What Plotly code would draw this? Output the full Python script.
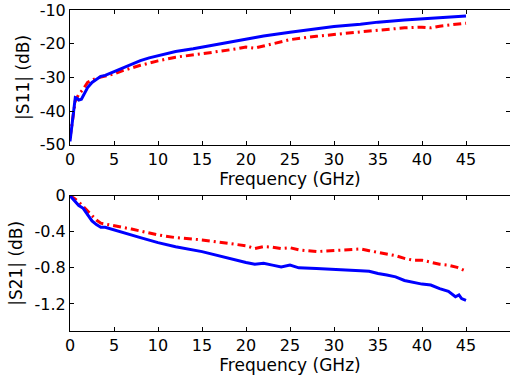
import plotly.graph_objects as go

# ---- data ----
f_s11_meas = [0, 0.2, 0.4, 0.6, 0.8, 1.0, 1.3, 1.6, 2.0, 2.5, 3.0, 3.5, 4.0, 5, 6, 7, 8, 9, 10,
              12, 14, 15, 17, 20, 22, 25, 28, 30, 33, 35, 38, 40, 42, 44, 45]
s11_meas = [-49, -44, -39, -36, -36.2, -36.7, -36.5, -35, -33, -31.5, -30.5, -29.7, -29.4, -28.3,
            -27, -26, -25, -24.2, -23.5, -22.3, -21.5, -21, -20, -18.5, -17.7, -16.6, -15.5,
            -14.9, -14.2, -13.6, -13, -12.6, -12.3, -11.9, -11.8]

f_s11_sim = [0, 0.3, 0.6, 1, 1.5, 2, 3, 4, 5, 6, 7, 8, 10, 12, 15, 17, 19, 20, 21, 22, 25, 28,
             30, 33, 35, 38, 40, 41, 42, 44, 45]
s11_sim = [-48, -42, -37, -35, -33.5, -31.5, -30.2, -29.6, -29, -28, -27.2, -26.4, -25.1, -24,
           -23, -22.3, -21.5, -21, -21.3, -20.7, -18.8, -17.8, -17.2, -16.5, -16, -15.3, -15.1,
           -15.3, -14.8, -14.2, -13.9]

f_s21_meas = [0, 0.5, 1, 1.5, 2, 2.5, 3, 3.5, 4, 5, 7, 8, 10, 12, 15, 18, 20, 21, 22, 23, 24, 25,
              26, 28, 30, 32, 33, 34, 35, 36, 37, 38, 39, 40, 41, 42, 43, 43.8, 44.2, 44.5, 45]
s21_meas = [0, -0.05, -0.11, -0.14, -0.21, -0.28, -0.32, -0.35, -0.35, -0.38, -0.435, -0.465,
            -0.52, -0.565, -0.62, -0.695, -0.74, -0.76, -0.75, -0.77, -0.79, -0.77, -0.80,
            -0.807, -0.82, -0.826, -0.833, -0.837, -0.863, -0.88, -0.9, -0.94, -0.964, -0.98,
            -0.99, -1.03, -1.06, -1.12, -1.10, -1.14, -1.16]

f_s21_sim = [0, 0.5, 1, 2, 3, 3.5, 5, 7, 10, 12, 15, 18, 20, 21, 22, 23, 24, 25, 26, 28, 30, 31,
             32, 33, 34, 35, 36, 37, 38, 39, 40, 41, 42, 43, 44, 45]
s21_sim = [0, -0.03, -0.07, -0.175, -0.27, -0.305, -0.33, -0.37, -0.435, -0.465, -0.49, -0.53,
           -0.555, -0.585, -0.565, -0.57, -0.585, -0.577, -0.6, -0.62, -0.61, -0.6, -0.595,
           -0.59, -0.61, -0.63, -0.65, -0.665, -0.695, -0.715, -0.715, -0.74, -0.76, -0.77,
           -0.795, -0.837]

x_ticks = [0, 5, 10, 15, 20, 25, 30, 35, 40, 45]
s11_ticks = [-50, -40, -30, -20, -10]
s11_ticktext = ["-50", "-40", "-30", "-20", "-10"]
s21_ticks = [0, -0.4, -0.8, -1.2]
s21_ticktext = ["0", "-0.4", "-0.8", "-1.2"]

BLUE = "#0000ff"
RED = "#ff0000"
DASHDOT = "8px,4px,2px,4px"
FONT = "DejaVu Sans"

fig = go.Figure()
fig.add_trace(go.Scatter(x=f_s11_sim, y=s11_sim, mode="lines",
                         line=dict(color=RED, width=3, dash=DASHDOT), xaxis="x", yaxis="y"))
fig.add_trace(go.Scatter(x=f_s11_meas, y=s11_meas, mode="lines",
                         line=dict(color=BLUE, width=3), xaxis="x", yaxis="y"))
fig.add_trace(go.Scatter(x=f_s21_sim, y=s21_sim, mode="lines",
                         line=dict(color=RED, width=3, dash=DASHDOT), xaxis="x2", yaxis="y2"))
fig.add_trace(go.Scatter(x=f_s21_meas, y=s21_meas, mode="lines",
                         line=dict(color=BLUE, width=3), xaxis="x2", yaxis="y2"))

axis_common = dict(showline=True, linecolor="black", linewidth=1, mirror="ticks",
                   ticks="inside", ticklen=4, tickwidth=1, tickcolor="black",
                   showgrid=False, zeroline=False, automargin=False,
                   tickfont=dict(family=FONT, size=16, color="black"))
xtitle = dict(text="Frequency (GHz)", font=dict(family=FONT, size=17, color="black"), standoff=0)

fig.update_layout(
    width=510, height=376,
    margin=dict(l=70, r=0, t=10, b=44.5),
    paper_bgcolor="white", plot_bgcolor="white",
    showlegend=False,
    xaxis=dict(domain=[0, 1], range=[0, 50], anchor="y", tickvals=x_ticks, title=xtitle,
               **axis_common),
    yaxis=dict(domain=[0.5801, 1], range=[-50, -10], anchor="x", tickvals=s11_ticks,
               ticktext=s11_ticktext,
               title=dict(text="|S11| (dB)", font=dict(family=FONT, size=17, color="black"),
                          standoff=5),
               **axis_common),
    xaxis2=dict(domain=[0, 1], range=[0, 50], anchor="y2", tickvals=x_ticks, title=xtitle,
                **axis_common),
    yaxis2=dict(domain=[0, 0.4215], range=[-1.5, 0], anchor="x2", tickvals=s21_ticks,
                ticktext=s21_ticktext,
                title=dict(text="|S21| (dB)", font=dict(family=FONT, size=17, color="black"),
                           standoff=7),
                **axis_common),
)

fig.write_html("out.html", config={"displayModeBar": False},
               post_script="document.body.style.margin='0';document.body.style.padding='0';")
